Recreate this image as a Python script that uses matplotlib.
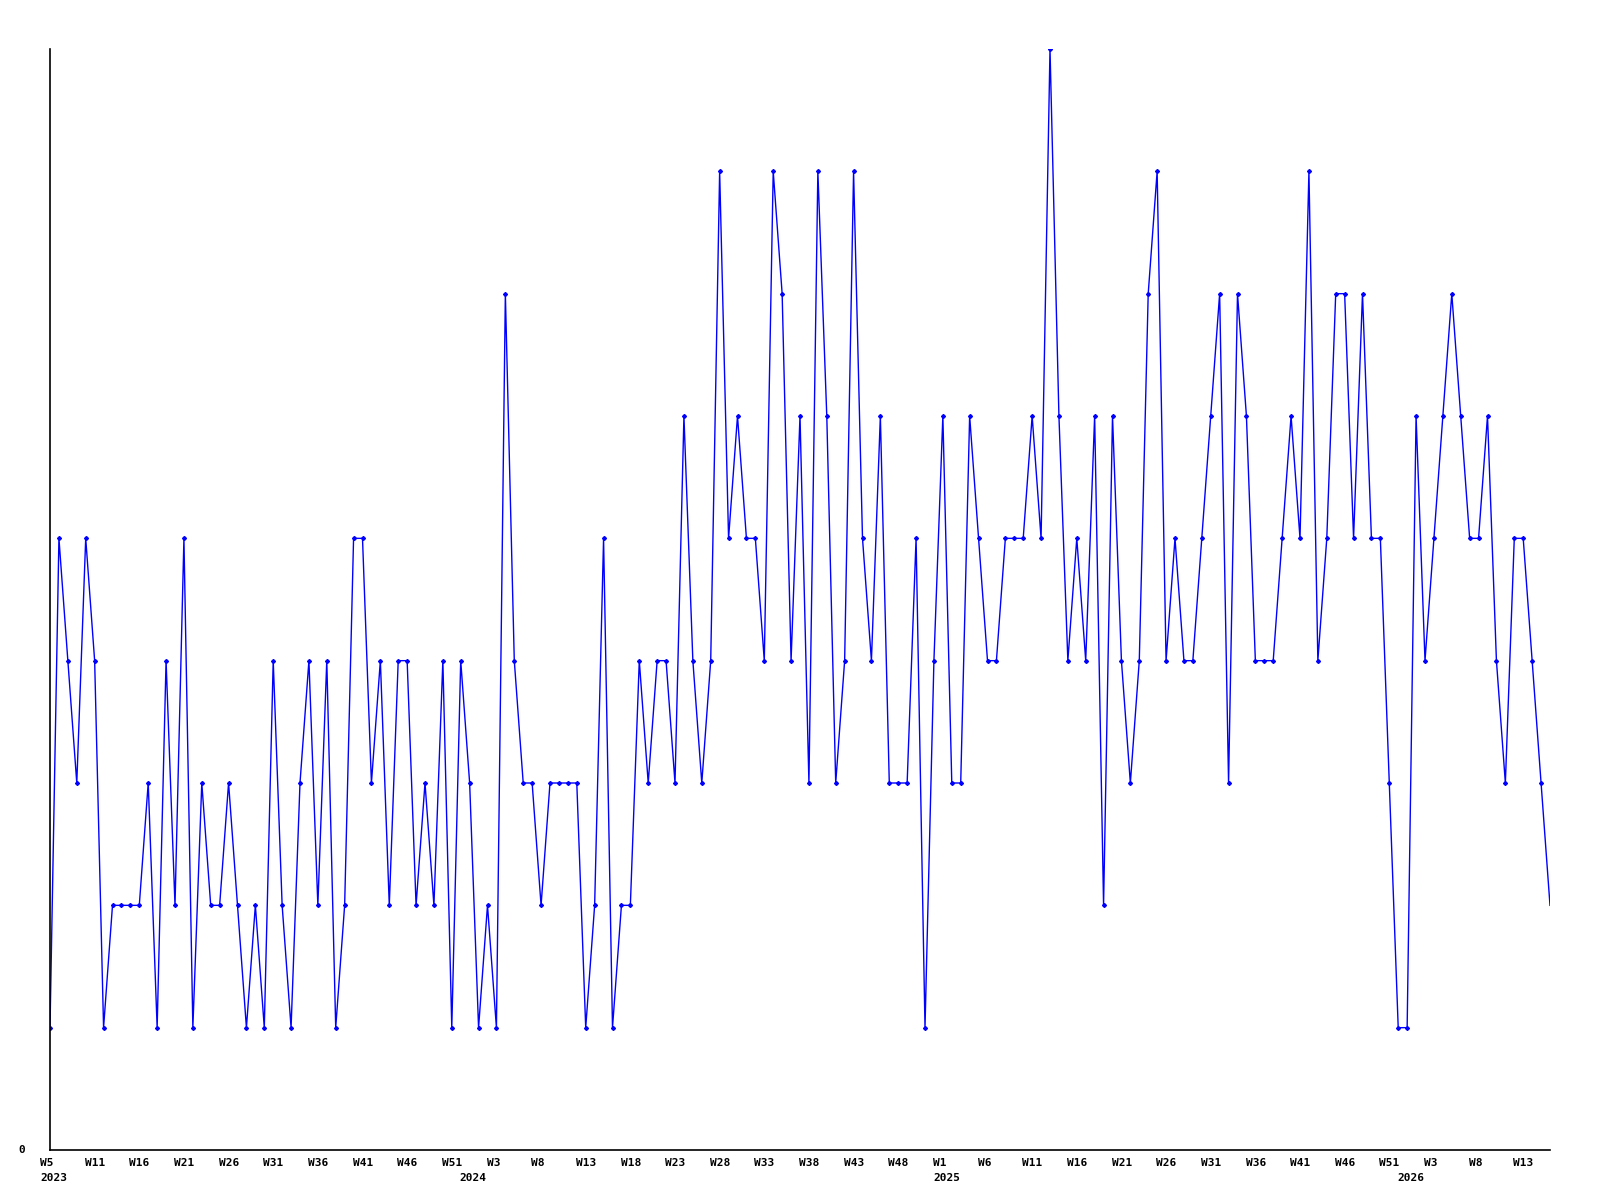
import matplotlib
matplotlib.use("Agg")
import matplotlib.pyplot as plt
import matplotlib.transforms as mtransforms

# weekly values, 2023 W5 .. 2026 W16
values = [
    1, 5, 4, 3, 5, 4, 1, 2, 2, 2, 2, 3, 1, 4, 2, 5, 1, 3, 2, 2, 3, 2, 1, 2, 1,
    4, 2, 1, 3, 4, 2, 4, 1, 2, 5, 5, 3, 4, 2, 4, 4, 2, 3, 2, 4, 1, 4, 3, 1,
    2, 1, 7, 4, 3, 3, 2, 3, 3, 3, 3, 1, 2, 5, 1, 2, 2, 4, 3, 4, 4, 3, 6, 4,
    3, 4, 8, 5, 6, 5, 5, 4, 8, 7, 4, 6, 3, 8, 6, 3, 4, 8, 5, 4, 6, 3, 3, 3,
    5, 1, 4, 6, 3, 3, 6, 5, 4, 4, 5, 5, 5, 6, 5, 9, 6, 4, 5, 4, 6, 2, 6, 4,
    3, 4, 7, 8, 4, 5, 4, 4, 5, 6, 7, 3, 7, 6, 4, 4, 4, 5, 6, 5, 8, 4, 5, 7,
    7, 5, 7, 5, 5, 3, 1, 1, 6, 4, 5, 6, 7, 6, 5, 5, 6, 4, 3, 5, 5, 4, 3, 2,
]

# tick labels every 5 weeks
week_labels = ["W5", "W11", "W16", "W21", "W26", "W31", "W36", "W41", "W46", "W51",
               "W3", "W8", "W13", "W18", "W23", "W28", "W33", "W38", "W43", "W48",
               "W1", "W6", "W11", "W16", "W21", "W26", "W31", "W36", "W41", "W46", "W51",
               "W3", "W8", "W13"]
year_labels = ["2023", "2024", "2025", "2026"]
year_pos = [0, 47, 100, 152]

font = dict(family="DejaVu Sans Mono", fontsize=8, fontweight="bold", color="black")

fig = plt.figure(figsize=(16, 12), dpi=100)
ax = fig.add_axes([50 / 1600, 50 / 1200, 1500 / 1600, 1101 / 1200])

x = list(range(len(values)))
ax.plot(x, values, color="#0000ff", linewidth=1.0, marker="D", markersize=2.0,
        markevery=slice(0, len(values) - 1))

ax.set_xlim(0, len(values) - 1)
ax.set_ylim(0, 9)
ax.set_xticks([])
ax.set_yticks([])
for s in ["top", "right"]:
    ax.spines[s].set_visible(False)
for s in ["left", "bottom"]:
    ax.spines[s].set_linewidth(1.2)
    ax.spines[s].set_color("black")

trans = mtransforms.blended_transform_factory(ax.transData, fig.transFigure)
for i, lab in enumerate(week_labels):
    ax.text(i * 5 - 1.1, 1 - 1158 / 1200, lab, transform=trans, ha="left", va="top", **font)
for pos, lab in zip(year_pos, year_labels):
    ax.text(pos - 1.1, 1 - 1173 / 1200, lab, transform=trans, ha="left", va="top", **font)

fig.text(22 / 1600, 1 - 1150 / 1200, "0", ha="center", va="center", **font)

fig.savefig("out.png", dpi=100, facecolor="white")
